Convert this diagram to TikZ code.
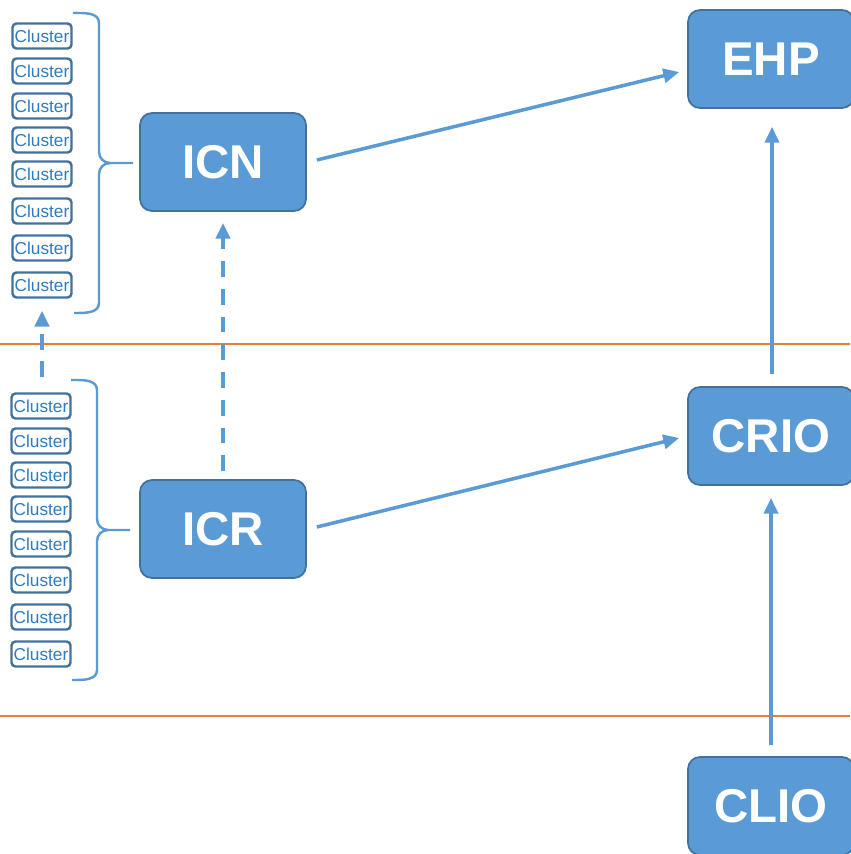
\documentclass[tikz,border=0pt]{standalone}
\usepackage{fontspec}
\setmainfont{Liberation Sans}
\usetikzlibrary{arrows.meta}

\definecolor{boxblue}{HTML}{5B9BD5}
\definecolor{edgeblue}{HTML}{41719C}
\definecolor{textblue}{HTML}{2E7BC0}
\definecolor{layerorange}{HTML}{ED7D31}

\tikzset{
    unit/.style={draw=edgeblue, line width=1pt, fill=boxblue, rounded corners=0.24cm,
        minimum width=3.32cm, minimum height=1.96cm, text=white,
        font=\fontsize{27}{32}\selectfont\bfseries},
    cluster/.style={draw=edgeblue, line width=1.4pt, fill=white, rounded corners=0.08cm,
        minimum width=1.18cm, minimum height=0.5cm, inner sep=0pt, text=textblue,
        font=\fontsize{9.8}{11}\selectfont},
    flow/.style={boxblue, line width=2pt, -{Triangle[length=9pt,width=8pt]}},
    brace/.style={boxblue, line width=1.4pt}
}

\begin{document}
\begin{tikzpicture}[x=0.02cm,y=-0.02cm]
        \useasboundingbox (0,0) rectangle (850,854);

        % layer borders
        \draw[layerorange, line width=0.6pt] (0,344) -- (850,344);
        \draw[layerorange, line width=0.6pt] (0,716) -- (850,716);

        \node[unit] (ICN) at (223,162) {ICN};
        \node[unit] (ICR) at (223,529) {ICR};
        \node[unit] (EHP) at (771,59) {EHP};
        \node[unit] (CRIO) at (771,436) {CRIO};
        \node[unit] (CLIO) at (771,806) {CLIO};

        \foreach \y [count=\i] in {36,71,106,140,174,211,248,285} {
            \node[cluster] (a\i) at (42,\y) {Cluster};
        }
        \foreach \y [count=\i] in {406,441,475,509,544,580,617,654} {
            \node[cluster] (b\i) at (41,\y) {Cluster};
        }

        % braces
        \draw[brace] (73,13) to[out=0,in=90] (99,23) -- (99,152) to[out=-90,in=180] (110,163) -- (133,163);
        \draw[brace] (110,163) to[out=180,in=90] (99,174) -- (99,303) to[out=-90,in=0] (74,313);
        \draw[brace] (71,380) to[out=0,in=90] (97,390) -- (97,519) to[out=-90,in=180] (108,530) -- (130,530);
        \draw[brace] (108,530) to[out=180,in=90] (97,541) -- (97,670) to[out=-90,in=0] (72,680);

        \draw[flow] ([xshift=0.2cm,yshift=0.04cm]ICN.east) -- ([xshift=-0.16cm,yshift=-0.26cm]EHP.west);
        \draw[flow] ([xshift=0.2cm,yshift=0.04cm]ICR.east) -- ([xshift=-0.16cm,yshift=-0.04cm]CRIO.west);
        \draw[flow, shorten <=0.24cm, shorten >=0.36cm] ([xshift=0.02cm]CRIO.north) -- ([xshift=0.02cm]EHP.south);
        \draw[flow, shorten <=0.22cm, shorten >=0.24cm] (CLIO.north) -- (CRIO.south);
        \draw[flow, line width=2.2pt, dash pattern=on 9pt off 6.8pt, shorten <=0.16cm, shorten >=0.22cm] (ICR.north) -- (ICN.south);
        \draw[flow, line width=2.2pt, dash pattern=on 9pt off 6.8pt, shorten <=0.3cm, shorten >=0.24cm] ([xshift=0.02cm]b1.north) -- (a8.south);
    \end{tikzpicture}
\end{document}
